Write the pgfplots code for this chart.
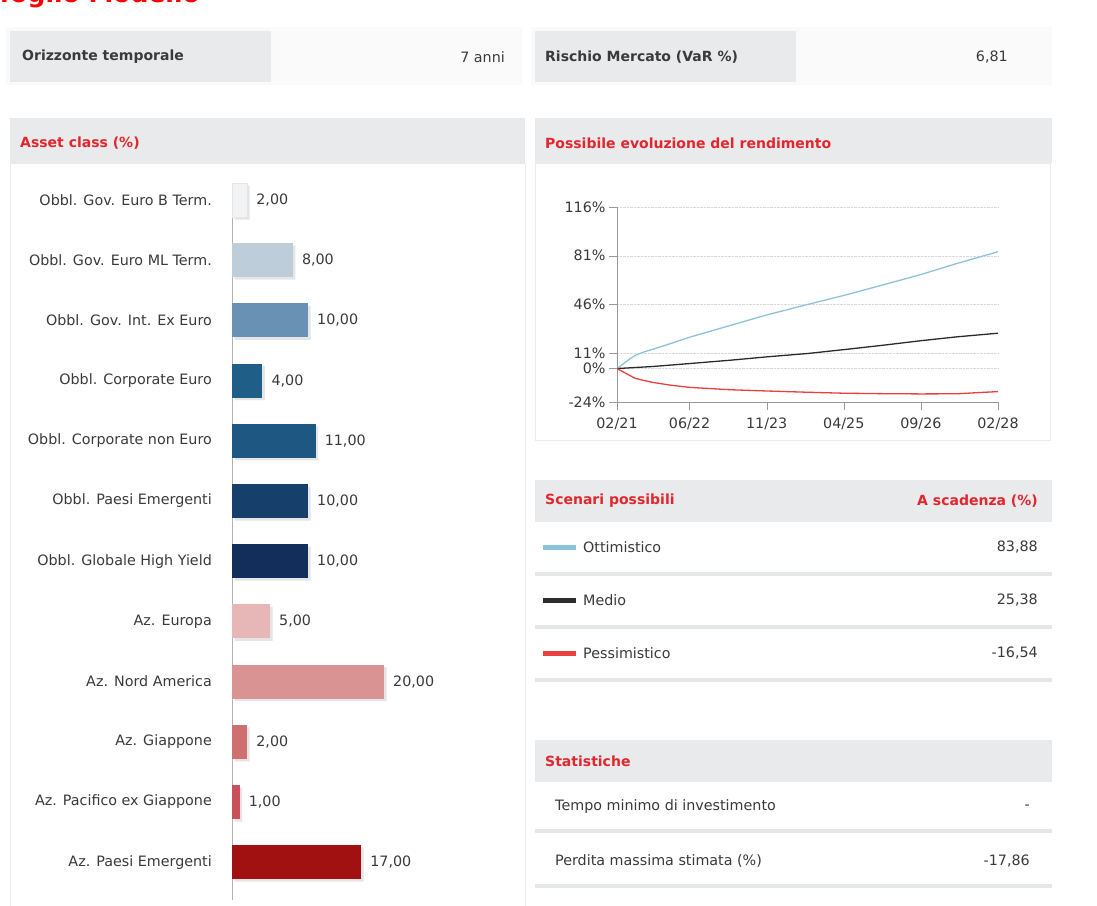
\documentclass[border=0pt]{standalone}
\usepackage{fontspec}
\setmainfont{DejaVu Sans}
\usepackage{pgfplots}
\pgfplotsset{compat=1.18}
\definecolor{hdr}{HTML}{E8EAEB}
\definecolor{redt}{HTML}{E1262D}
\definecolor{txt}{HTML}{3A3A3A}
\definecolor{sep}{HTML}{E4E6E8}
\definecolor{c1}{HTML}{F1F3F5}
\definecolor{c2}{HTML}{BDCDDA}
\definecolor{c3}{HTML}{6891B3}
\definecolor{c4}{HTML}{1F5E87}
\definecolor{c5}{HTML}{1D5782}
\definecolor{c6}{HTML}{173F6B}
\definecolor{c7}{HTML}{132E5B}
\definecolor{c8}{HTML}{E7B6B6}
\definecolor{c9}{HTML}{DA9393}
\definecolor{c10}{HTML}{D06F70}
\definecolor{c11}{HTML}{C9505A}
\definecolor{c12}{HTML}{A11111}
\definecolor{lopt}{HTML}{8DC3DA}
\definecolor{lmed}{HTML}{2B2B2B}
\definecolor{lpes}{HTML}{E8403F}
\newcommand{\fs}{\fontsize{14.3}{17}\selectfont}
\newcommand{\fb}{\fontsize{14}{17}\selectfont\bfseries}
\pgfplotsset{/pgf/number format/assume math mode=true}
\begin{document}
\begin{tikzpicture}[x=1pt,y=1pt,
  lbl/.style={inner sep=0pt, text=txt, font=\fs},
  hd/.style={inner sep=0pt, text=redt, font=\fb}]
\useasboundingbox (0,0) rectangle (1097,905);
\clip (0,0) rectangle (1097,905);
\fill[white] (0,0) rectangle (1097,905);
% page title (cut at top)
\node[anchor=base east, inner sep=0pt, text=red, font=\fontsize{25}{28}\selectfont\bfseries] at (200,902) {Portafoglio Modello};
% faint panels behind top boxes
\fill[black!2] (6,878) rectangle (522,820);
\fill[black!2] (531,878) rectangle (1052,820);
% top boxes
\fill[hdr] (10,874) rectangle (271,823);
\node[lbl, anchor=west, font=\fb] at (22,848) {Orizzonte temporale};
\node[lbl, anchor=east] at (505,848) {7 anni};
\fill[hdr] (535,874) rectangle (796,823);
\node[lbl, anchor=west, font=\fb] at (545,848) {Rischio Mercato (VaR \%)};
\node[lbl, anchor=east] at (1008,848) {6,81};
% asset class panel
\draw[black!8] (10,742) rectangle (525,-2);
\fill[hdr] (10,787) rectangle (525,742);
\node[hd, anchor=west] at (20,762) {Asset class (\%)};
% line chart panel
\draw[black!8] (535,742) rectangle (1050,465);
\fill[hdr] (535,787) rectangle (1052,742);
\node[hd, anchor=west] at (545,762) {Possibile evoluzione del rendimento};
% scenari
\fill[hdr] (535,425) rectangle (1052,383);
\node[hd, anchor=west] at (545,404) {Scenari possibili};
\node[hd, anchor=east] at (1038,404) {A scadenza (\%)};
\fill[lopt] (543,355) rectangle (576,360);
\node[lbl, anchor=west] at (583,358) {Ottimistico};
\node[lbl, anchor=east] at (1038,358) {83,88};
\fill[sep] (535,329) rectangle (1052,333);
\fill[lmed] (543,302) rectangle (576,307);
\node[lbl, anchor=west] at (583,305) {Medio};
\node[lbl, anchor=east] at (1038,305) {25,38};
\fill[sep] (535,276) rectangle (1052,280);
\fill[lpes] (543,249) rectangle (576,254);
\node[lbl, anchor=west] at (583,252) {Pessimistico};
\node[lbl, anchor=east] at (1038,252) {-16,54};
\fill[sep] (535,223) rectangle (1052,227);
% statistiche
\fill[hdr] (535,165) rectangle (1052,123);
\node[hd, anchor=west] at (545,144) {Statistiche};
\node[lbl, anchor=west] at (555,98) {Tempo minimo di investimento};
\node[lbl, anchor=east] at (1030,98) {-};
\fill[sep] (535,72) rectangle (1052,76);
\node[lbl, anchor=west] at (555,44) {Perdita massima stimata (\%)};
\node[lbl, anchor=east] at (1030,44) {-17,86};
\fill[sep] (535,17) rectangle (1052,21);

% bar chart
\begin{axis}[at={(232pt,722pt)}, anchor=north west,
  x=7.6pt, y=60.2pt, y dir=reverse,
  xmin=0, xmax=30, ymin=0.717, ymax=12.63,
  hide x axis, axis y line*=left,
  y axis line style={draw=black!30, line width=0.8pt, -},
  ytick={1,...,12},
  yticklabels={Obbl. Gov. Euro B Term., Obbl. Gov. Euro ML Term., Obbl. Gov. Int. Ex Euro, Obbl. Corporate Euro, Obbl. Corporate non Euro, Obbl. Paesi Emergenti, Obbl. Globale High Yield, Az. Europa, Az. Nord America, Az. Giappone, Az. Pacifico ex Giappone, Az. Paesi Emergenti},
  major tick length=0pt,
  yticklabel style={font=\fs, text=txt, inner sep=0pt, xshift=-20pt},
  clip=false,
  vb/.style={xbar, bar width=34pt, bar shift=0pt, draw=none, fill=#1, point meta=x,
    nodes near coords={\pgfmathprintnumber[fixed, fixed zerofill, precision=2, use comma]{\pgfplotspointmeta}},
    every node near coord/.append style={font=\fs, text=txt, inner sep=0pt, anchor=west, xshift=9pt}},
]
\addplot[xbar, bar width=34pt, bar shift=0pt, draw=none, fill=black!10, xshift=2.5pt, yshift=-2.5pt]
  coordinates {(2,1) (8,2) (10,3) (4,4) (11,5) (10,6) (10,7) (5,8) (20,9) (2,10) (1,11) (17,12)};
\addplot[vb=c1, draw=black!10] coordinates {(2,1)};
\addplot[vb=c2] coordinates {(8,2)};
\addplot[vb=c3] coordinates {(10,3)};
\addplot[vb=c4] coordinates {(4,4)};
\addplot[vb=c5] coordinates {(11,5)};
\addplot[vb=c6] coordinates {(10,6)};
\addplot[vb=c7] coordinates {(10,7)};
\addplot[vb=c8] coordinates {(5,8)};
\addplot[vb=c9] coordinates {(20,9)};
\addplot[vb=c10] coordinates {(2,10)};
\addplot[vb=c11] coordinates {(1,11)};
\addplot[vb=c12] coordinates {(17,12)};
\end{axis}

% line chart
\begin{axis}[at={(617pt,503pt)}, anchor=south west,
  scale only axis, width=381pt, height=195pt,
  xmin=0, xmax=84, ymin=-24, ymax=116,
  axis x line*=bottom, axis y line*=left,
  axis line style={draw=black!40, -},
  xtick={0,16,33,50,67,84},
  xticklabels={02/21,06/22,11/23,04/25,09/26,02/28},
  ytick={-24,0,11,46,81,116},
  yticklabels={-24\%,0\%,11\%,46\%,81\%,116\%},
  tick align=outside, major tick length=8pt,
  tick style={draw=black!40},
  ymajorgrids, grid style={black!15, densely dotted},
  tick label style={font=\fs, text=txt},
  xticklabel style={yshift=-4pt},
  clip=false,
]
\addplot[lopt, line width=1.3pt] coordinates {(0,0) (2,5) (4,9.5) (6,12) (10,16) (16,22.5) (25,31) (33,38.5) (42,46) (50,52.5) (58,59.5) (67,67.5) (75,75.5) (84,83.88)};
\addplot[lmed, line width=1.3pt] coordinates {(0,0) (8,1.5) (16,3.6) (25,6) (33,8.4) (42,10.8) (50,13.6) (58,16.5) (67,20) (75,22.8) (84,25.38)};
\addplot[lpes, line width=1.3pt] coordinates {(0,0) (2,-3.5) (4,-7) (6,-8.6) (8,-10) (12,-12) (16,-13.5) (25,-15.2) (33,-16.1) (42,-17) (50,-17.7) (58,-18) (67,-18.2) (75,-18.1) (80,-17.2) (84,-16.54)};
\end{axis}
\end{tikzpicture}
\end{document}
